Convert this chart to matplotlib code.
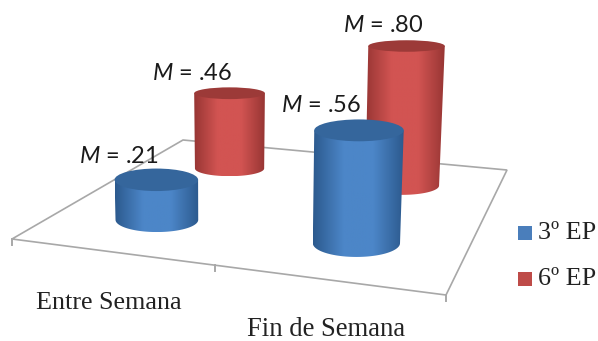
import numpy as np
import matplotlib
matplotlib.use('Agg')
import matplotlib.pyplot as plt
from matplotlib.colors import LinearSegmentedColormap
from matplotlib.patches import Ellipse, Polygon, Rectangle

categories = ['Entre Semana', 'Fin de Semana']
series_names = ['3º EP', '6º EP']
values_3ep = [0.21, 0.56]
values_6ep = [0.46, 0.80]

#floor corners in pixels: front left, front right, back right, back left
floor_px = np.array([[12, 239], [446, 295], [507, 170], [183, 140]], dtype=float)

#colours: edge, middle, top, legend
blue = ['#2c5a8e', '#4c86c8', '#35669c', '#4a7ebb']
red = ['#983634', '#d25452', '#9c3a38', '#be4b48']

plt.rcParams['mathtext.fontset'] = 'custom'
plt.rcParams['mathtext.it'] = 'Lato:italic'
plt.rcParams['mathtext.rm'] = 'Lato'


def make_homography(pts):
	src = [(0, 0), (1, 0), (1, 1), (0, 1)]
	a = []
	b = []
	for (u, v), (x, y) in zip(src, pts):
		a.append([u, v, 1, 0, 0, 0, -u*x, -v*x])
		a.append([0, 0, 0, u, v, 1, -u*y, -v*y])
		b += [x, y]
	h = np.linalg.solve(np.array(a), np.array(b))
	return np.append(h, 1).reshape(3, 3)


H = make_homography(floor_px)


def floor(u, v):
	p = H @ np.array([u, v, 1.0])
	return p[0]/p[2], p[1]/p[2]


def cylinder(ax, u, v, value, col, z):
	bx, by = floor(u, v)
	by = by + 1
	px_per_unit = 182.5 + 22*(u-0.5) - 54*(v-0.5)
	h = value*px_per_unit
	rx = 39.1 + 4.5*(u-0.5) - 13.5*(v-0.5)
	ry = 10.75 + 3*(u-0.5) - 9*(v-0.5)
	tx = bx + h*(bx-230)*0.00018
	ty = by - h
	trx = rx + 0.01*h
	tr_y = ry - 0.025*h

	#body outline: top left, down the side, round the base, top right
	t = np.linspace(np.pi, 0, 60)
	arc = np.column_stack([bx + rx*np.cos(t), by + ry*np.sin(t)])
	pts = np.vstack([[tx-trx, ty], arc, [tx+trx, ty]])
	body = Polygon(pts, closed=True, fc='none', ec='none', zorder=z)
	ax.add_patch(body)

	cmap = LinearSegmentedColormap.from_list('c', [col[0], col[1], col[1], col[0]])
	grad = np.linspace(0, 1, 128).reshape(1, -1)
	left = min(tx-trx, bx-rx)
	right = max(tx+trx, bx+rx)
	im = ax.imshow(grad, cmap=cmap, extent=(left, right, by+ry, ty), aspect='auto', zorder=z)
	im.set_clip_path(body)

	ax.add_patch(Ellipse((tx, ty), 2*trx, 2*tr_y, fc=col[2], ec='none', zorder=z+0.1))
	return tx, ty


fig = plt.figure(figsize=(5.98, 3.41), dpi=100)
ax = fig.add_axes([0, 0, 1, 1])

#Floor and ticks
ax.add_patch(Polygon(floor_px, closed=True, fc='white', ec='#a8a8a8', lw=1.2, zorder=1))
for u in [0, 0.5, 1]:
	x, y = floor(u, 0)
	ax.plot([x, x], [y, y+6], color='#a8a8a8', lw=1.4, zorder=1)

#Cylinders, back row first
depth = [0.25, 0.75]
across = [0.25, 0.75]
z = 2
tops = {}
for s, vals, col in [(1, values_6ep, red), (0, values_3ep, blue)]:
	for c in range(len(categories)):
		tops[(s, c)] = cylinder(ax, across[c], depth[s], vals[c], col, z)
		z += 1

#Value labels, offsets from the cylinder top
label_off = {(0, 0): (-38, -23), (0, 1): (-38, -25), (1, 0): (-37, -20), (1, 1): (-23, -21)}
for s, vals in [(0, values_3ep), (1, values_6ep)]:
	for c in range(len(categories)):
		tx, ty = tops[(s, c)]
		dx, dy = label_off[(s, c)]
		txt = '$\\mathit{M}$ = ' + ('%.2f' % vals[c]).lstrip('0')
		ax.text(tx+dx, ty+dy, txt, family='Lato', fontsize=17, color='#1a1a1a',
			ha='center', va='center', zorder=20)

#Category labels
ax.text(109, 303, categories[0], family='Liberation Serif', fontsize=18.8, color='#222222', ha='center', va='center')
ax.text(326, 330, categories[1], family='Liberation Serif', fontsize=19.2, color='#222222', ha='center', va='center')

#Legend
for name, col, y in zip(series_names, [blue, red], [233, 279]):
	ax.add_patch(Rectangle((518, y-7), 14, 14, fc=col[3], ec='none'))
	ax.text(538, y, name, family='Liberation Serif', fontsize=18.8, color='#222222', ha='left', va='center')

ax.set_xlim(0, 598)
ax.set_ylim(341, 0)
ax.axis('off')
fig.savefig('out.png', dpi=100)
